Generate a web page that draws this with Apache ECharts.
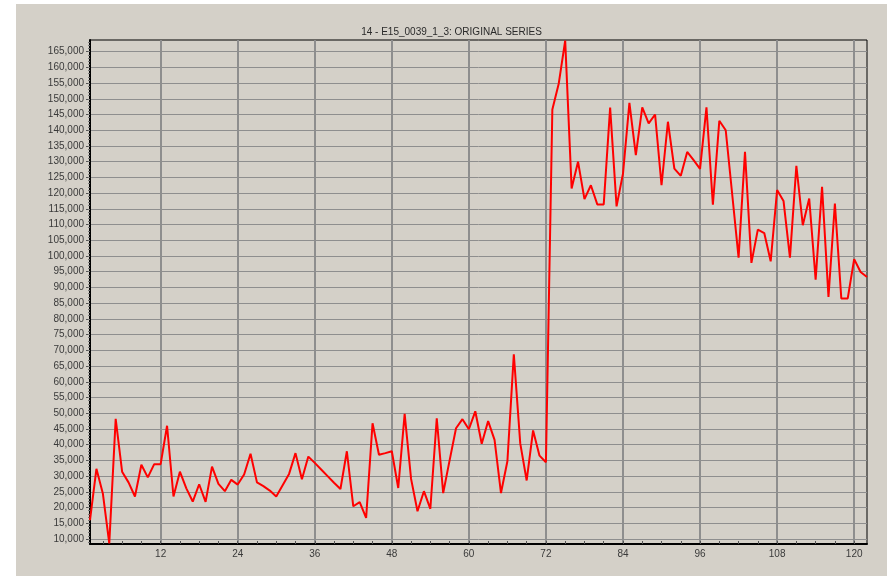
<!DOCTYPE html>
<html>
<head>
<meta charset="utf-8">
<script src="https://cdn.jsdelivr.net/npm/echarts@6/dist/echarts.min.js"></script>
<style>
html,body{margin:0;padding:0;background:#ffffff;width:887px;height:576px;overflow:hidden;}
#chart{position:absolute;left:16px;top:4px;width:871px;height:572px;}
</style>
</head>
<body>
<div id="chart"></div>
<script>
const titleText = '14 - E15_0039_1_3: ORIGINAL SERIES';

// period numbers (x axis categories)
const periods = [];
for (let i = 1; i <= 122; i++) periods.push(i);

// original series values
const values = [
  16000, 32300, 24500, 8600, 48200, 31400, 28000, 23500, 33600, 29600,
  33800, 33800, 46000, 23500, 31400, 26100, 21900, 27400, 21800, 33000,
  27500, 25200, 28800, 27300, 30500, 37100, 28000, 26800, 25400, 23500,
  27100, 30700, 37300, 29000, 36200, 34200, 32100, 30000, 27900, 25900,
  37900, 20400, 21700, 16700, 46800, 36800, 37300, 37900, 26200, 49800,
  29100, 18800, 25200, 19600, 48400, 24600, 35000, 45200, 48100, 44900,
  50600, 40300, 47500, 41500, 24600, 34700, 68700, 40400, 28600, 44500,
  36500, 34400, 146600, 154900, 168500, 121500, 130000, 118100, 122500, 116400,
  116400, 147200, 115800, 126200, 148700, 132100, 147300, 142200, 145000, 122500,
  142700, 127800, 125500, 133100, 130500, 127700, 147300, 116300, 143000, 140000,
  119800, 99500, 133100, 97800, 108400, 107300, 98300, 121000, 117500, 99500,
  128700, 109800, 118300, 92500, 122000, 87000, 116700, 86500, 86500, 99000,
  94900, 93300
];

// y tick labels
const yTicks = [10000, 15000, 20000, 25000, 30000, 35000, 40000, 45000, 50000,
  55000, 60000, 65000, 70000, 75000, 80000, 85000, 90000, 95000, 100000, 105000,
  110000, 115000, 120000, 125000, 130000, 135000, 140000, 145000, 150000, 155000,
  160000, 165000];
const yMin = 8400, yMax = 168700;

const yMinor = [];
for (let v = 9000; v <= 168000; v += 1000) yMinor.push(v);

const xMajor = 12, xMinor = 3;
const labelStyle = {color: '#3a3a3a', fontSize: 10, fontFamily: 'Liberation Sans, Arial, sans-serif'};
const gridColor = '#8e8e8e';

const chart = echarts.init(document.getElementById('chart'), null, {renderer: 'canvas'});
chart.setOption({
  backgroundColor: '#d4d0c8',
  animation: false,
  title: {
    text: titleText,
    left: 'center',
    top: 18,
    textStyle: {color: '#2a2a2a', fontSize: 10, fontWeight: 'normal', fontFamily: 'Liberation Sans, Arial, sans-serif'}
  },
  grid: {
    left: 74, right: 20, top: 36, bottom: 32,
    show: true, borderColor: '#000000', borderWidth: 1, backgroundColor: 'transparent'
  },
  xAxis: {
    type: 'category',
    data: periods,
    boundaryGap: false,
    axisLine: {lineStyle: {color: '#000000', width: 2}},
    axisTick: {
      inside: true, length: 3,
      interval: (idx, val) => Number(val) % xMinor === 0,
      lineStyle: {color: '#555555'}
    },
    axisLabel: {
      ...labelStyle, margin: 5,
      interval: (idx, val) => Number(val) % xMajor === 0
    },
    splitLine: {
      show: true,
      interval: (idx, val) => Number(val) % xMajor === 0,
      lineStyle: {color: gridColor, width: 2}
    }
  },
  yAxis: [{
    type: 'value',
    min: yMin, max: yMax,
    axisLine: {show: true, lineStyle: {color: '#000000', width: 2}},
    axisTick: {show: true, length: 4, customValues: yTicks, lineStyle: {color: '#555555'}},
    axisLabel: {
      ...labelStyle, margin: 6, customValues: yTicks,
      formatter: v => Number(v).toLocaleString('en-US')
    },
    splitLine: {show: true, lineStyle: {color: gridColor, width: 1}}
  }, {
    type: 'value',
    position: 'left',
    min: yMin, max: yMax,
    axisLine: {show: false},
    axisTick: {show: true, length: 2, customValues: yMinor, lineStyle: {color: '#777777'}},
    axisLabel: {show: false},
    splitLine: {show: false}
  }],
  series: [{
    type: 'line',
    data: values,
    showSymbol: false,
    symbol: 'none',
    lineStyle: {color: '#ff0000', width: 2},
    z: 5
  }]
});
</script>
</body>
</html>
